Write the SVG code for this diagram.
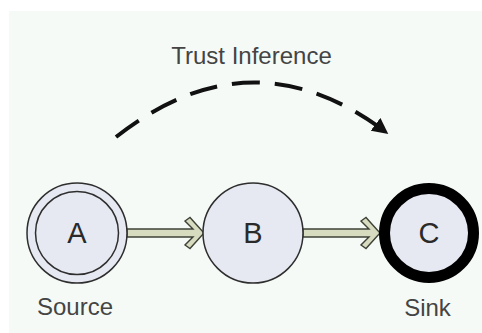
<svg xmlns="http://www.w3.org/2000/svg" width="482" height="333" viewBox="0 0 482 333">
<style>
.node{fill:#e6e9f1;stroke:#2e2e2e;stroke-width:1.5}
.lbl{font-family:"Liberation Sans",Arial,sans-serif;fill:#2a2a2a;text-anchor:middle}
.cap{font-family:"Liberation Sans",Arial,sans-serif;fill:#444;font-size:24px;text-anchor:middle}
.flow{fill:#d7dcc0;stroke:#3e4236;stroke-width:1.4;stroke-linejoin:miter}
.dash{fill:none;stroke:#111;stroke-width:4;stroke-dasharray:28 15}
</style>
<defs>
<marker id="ah" viewBox="0 0 10 10" refX="9" refY="5" markerWidth="4" markerHeight="4" orient="auto" markerUnits="strokeWidth">
<path d="M0,0 L10,5 L0,10 z" fill="#111"/>
</marker>
</defs>
<rect x="9" y="11" width="473" height="322" fill="#f5faf7"/>
<g id="connectors">
<path class="flow" d="M127,229 L193,229 L185,221 L190,217.5 L204,233 L190,248.5 L185,245 L193,237 L127,237 Z"/>
<path class="flow" d="M303,229 L369,229 L361,221 L366,217.5 L380,233 L366,248.5 L361,245 L369,237 L303,237 Z"/>
<path id="inference" class="dash" d="M116,137 Q252,30 387,133" marker-end="url(#ah)"/>
<text class="cap" x="251.5" y="64">Trust Inference</text>
</g>
<g id="A">
<circle class="node" cx="77" cy="233" r="50"/>
<circle class="node" cx="77" cy="233" r="41.5"/>
<text class="lbl" x="77" y="243" font-size="29">A</text>
<text class="cap" x="75" y="315">Source</text>
</g>
<g id="B">
<circle class="node" cx="253" cy="233" r="50"/>
<text class="lbl" x="253" y="243" font-size="29">B</text>
</g>
<g id="C">
<circle cx="429" cy="233" r="44.5" fill="#e6e9f1" stroke="#000" stroke-width="11"/>
<text class="lbl" x="429" y="243" font-size="29">C</text>
<text class="cap" x="427.5" y="316">Sink</text>
</g>
</svg>
